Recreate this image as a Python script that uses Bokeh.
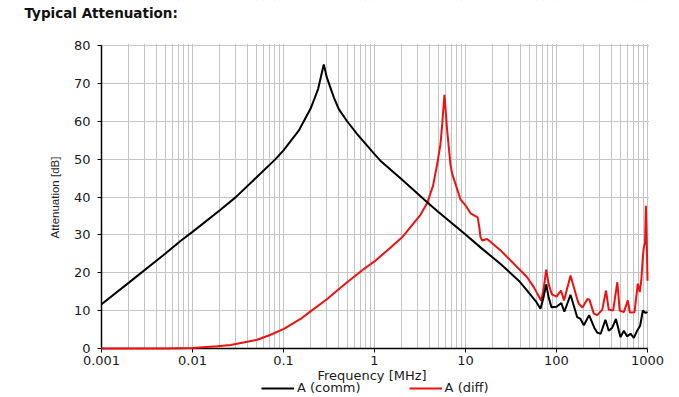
import math
from bokeh.plotting import figure
from bokeh.models import (FixedTicker, Legend, LegendItem, Range1d, Label,
                          CustomJSTickFormatter, BoxAnnotation)
from bokeh.embed import file_html
from bokeh.resources import INLINE

# ---- data ----
comm_freq = [0.001, 0.002, 0.005, 0.00738, 0.01, 0.02, 0.0297, 0.05, 0.0817, 0.1,
             0.147, 0.2, 0.24, 0.277, 0.3, 0.357, 0.405, 0.5, 0.645, 1.0, 1.16,
             2.0, 3.79, 5.0, 10.0, 14.6, 24.3, 38.5, 47.6, 60.0, 66.7, 72.0, 77.1,
             82.0, 88.0, 100.0, 113.0, 122.0, 142.6, 168.6, 183.6, 199.6, 228.0,
             260.0, 280.0, 306.0, 345.0, 375.0, 410.0, 450.0, 505.0, 549.0, 598.0,
             651.0, 708.0, 770.0, 830.0, 889.0, 951.0, 1000.0]
comm_att = [11.7, 17.4, 25.0, 28.4, 30.8, 36.5, 39.9, 45.1, 50.0, 52.3,
            57.5, 63.5, 68.5, 75.0, 71.5, 66.3, 63.2, 60.0, 56.6, 51.3, 49.6,
            44.6, 38.6, 36.1, 30.1, 26.7, 22.3, 17.9, 15.3, 12.3, 10.5, 13.5, 16.9,
            13.5, 10.9, 11.0, 12.0, 9.7, 14.2, 8.3, 7.8, 6.1, 8.8,
            5.5, 4.2, 3.9, 7.6, 4.7, 5.5, 7.8, 3.0, 4.7, 3.2,
            3.9, 2.8, 4.7, 6.0, 10.0, 9.4, 9.6]

diff_freq = [0.001, 0.005, 0.01, 0.0187, 0.0262, 0.04, 0.0514, 0.07, 0.101, 0.154,
             0.198, 0.3, 0.389, 0.5, 0.764, 1.0, 1.38, 2.0, 3.2, 3.79, 4.4, 4.89,
             5.31, 5.55, 5.87, 6.05, 6.29, 6.84, 7.14, 8.8, 10.0, 11.35, 13.6, 14.2,
             14.6, 15.3, 17.3, 24.3, 40.2, 47.6, 56.3, 67.9, 72.0, 77.1, 82.0, 89.0,
             100.0, 112.0, 121.0, 142.6, 168.6, 176.0, 193.0, 219.0, 230.0, 257.0,
             280.0, 306.0, 318.0, 350.0, 375.0, 419.0, 466.0, 495.0, 549.0, 608.0,
             640.0, 719.0, 783.0, 822.0, 854.0, 889.0, 912.0, 940.0, 960.0, 985.0,
             1000.0]
diff_att = [0.0, 0.0, 0.1, 0.6, 0.9, 1.8, 2.3, 3.5, 5.2, 7.8,
            9.8, 13.0, 15.3, 17.5, 21.0, 23.0, 25.9, 29.3, 35.3, 38.4, 43.0, 48.7,
            54.0, 59.3, 67.0, 63.0, 57.5, 48.5, 46.1, 39.4, 37.8, 35.7, 34.6, 32.0,
            29.4, 28.5, 28.9, 25.9, 20.6, 18.8, 16.2, 12.6, 15.5, 20.8, 17.0, 14.3,
            13.7, 15.3, 12.7, 19.3, 13.1, 11.8, 10.8, 13.1, 12.9, 9.2,
            8.8, 9.8, 10.2, 15.3, 10.3, 10.0, 17.5, 10.0, 9.6, 12.7,
            9.5, 9.6, 17.1, 14.9, 17.9, 24.1, 26.7, 28.0, 37.7, 26.0,
            17.9]

x_ticks = [0.001, 0.01, 0.1, 1, 10, 100, 1000]
x_tick_labels = ["0.001", "0.01", "0.1", "1", "10", "100", "1000"]
y_ticks = [0, 10, 20, 30, 40, 50, 60, 70, 80]

title_text = "Typical Attenuation:"
x_label = "Frequency [MHz]"
y_label = "Attenuation [dB]"
series_names = ["A (comm)", "A (diff)"]

# ---- layout (pixels): the whole canvas is the frame; the plot area is masked ----
W, H = 678, 396
X_MIN, X_MAX = 0.001, 1000
Y_MIN, Y_MAX = 0, 80
PX_L, PX_R, PX_T, PX_B = 101, 647, 45, 348
PX_DEC = (PX_R - PX_L) / math.log10(X_MAX / X_MIN)
PX_DB = (PX_B - PX_T) / (Y_MAX - Y_MIN)


def px_x(px):
    return X_MIN * 10 ** ((px - PX_L) / PX_DEC)


def px_y(py):
    return Y_MAX - (py - PX_T) / PX_DB


x0, x1 = px_x(0), px_x(W)
y0, y1 = px_y(H), px_y(0)

p = figure(frame_width=W, frame_height=H,
           min_border_left=0, min_border_right=0,
           min_border_top=0, min_border_bottom=0,
           x_axis_type="log",
           x_range=Range1d(x0, x1), y_range=Range1d(y0, y1),
           output_backend="svg", toolbar_location=None)
p.title = None
p.outline_line_color = None
p.background_fill_color = "white"
p.border_fill_color = "white"

minor = [m * 10.0 ** e for e in range(-3, 3) for m in range(2, 10)]
p.xaxis.ticker = FixedTicker(ticks=x_ticks, minor_ticks=minor)
p.yaxis.ticker = FixedTicker(ticks=y_ticks)
p.xaxis.formatter = CustomJSTickFormatter(
    args=dict(tick_vals=x_ticks, tick_texts=x_tick_labels),
    code="""
for (let i = 0; i < tick_vals.length; i++) {
  if (Math.abs(Math.log10(tick) - Math.log10(tick_vals[i])) < 1e-6) return tick_texts[i];
}
return '';
""")

for ax in (p.xaxis, p.yaxis):
    ax.axis_line_color = "black"
    ax.axis_line_width = 1.5
    ax.major_tick_line_color = "black"
    ax.major_tick_in = 0
    ax.major_tick_out = 4
    ax.minor_tick_line_color = None
    ax.major_label_text_font = "DejaVu Sans"
    ax.major_label_text_font_size = "13px"
    ax.major_label_text_color = "#1a1a1a"

p.xaxis.fixed_location = Y_MIN
p.xaxis.bounds = (X_MIN, X_MAX)
p.xaxis.major_label_standoff = 3
p.yaxis.fixed_location = X_MIN
p.yaxis.bounds = (Y_MIN, Y_MAX)
p.yaxis.major_label_standoff = 7

p.xgrid.grid_line_color = "#c4c4c4"
p.xgrid.grid_line_width = 1
p.xgrid.minor_grid_line_color = "#c4c4c4"
p.xgrid.minor_grid_line_width = 1
p.ygrid.grid_line_color = "#c4c4c4"
p.ygrid.grid_line_width = 1

# white masks hiding the grid outside the plot area
mask_kw = dict(fill_color="white", fill_alpha=1.0, line_alpha=0, level="glyph")
p.add_layout(BoxAnnotation(left=x0, right=x1, bottom=y0, top=Y_MIN, **mask_kw))
p.add_layout(BoxAnnotation(left=x0, right=x1, bottom=px_y(PX_T - 1.5), top=y1, **mask_kw))
p.add_layout(BoxAnnotation(left=x0, right=X_MIN, bottom=y0, top=y1, **mask_kw))
p.add_layout(BoxAnnotation(left=px_x(PX_R + 1.5), right=x1, bottom=y0, top=y1, **mask_kw))

r_red = p.line(diff_freq, diff_att, line_color="#ee1111", line_width=2, level="overlay")
r_black = p.line(comm_freq, comm_att, line_color="black", line_width=2, level="overlay")

p.add_layout(Label(x=px_x(24), y=px_y(12), text=title_text,
                   text_align="left", text_baseline="middle",
                   text_font="DejaVu Sans", text_font_size="13.5px",
                   text_font_style="bold", text_color="#111111"))
p.add_layout(Label(x=px_x(371.5), y=px_y(375), text=x_label,
                   text_align="center", text_baseline="middle",
                   text_font="DejaVu Sans", text_font_size="13px",
                   text_color="#1a1a1a"))
p.add_layout(Label(x=px_x(54), y=px_y(197), text=y_label, angle=math.pi / 2,
                   text_align="center", text_baseline="middle",
                   text_font="Liberation Sans", text_font_size="11.5px",
                   text_color="#1a1a1a"))

legend = Legend(items=[LegendItem(label=series_names[0], renderers=[r_black]),
                       LegendItem(label=series_names[1], renderers=[r_red])],
                orientation="horizontal", location=(261, 1),
                glyph_width=33, glyph_height=14, label_standoff=3, spacing=48,
                padding=0, margin=0, border_line_color=None,
                background_fill_alpha=0, label_text_font="DejaVu Sans",
                label_text_font_size="13px", label_height=14,
                label_text_color="#1a1a1a")
p.add_layout(legend)

open("out.html", "w").write(file_html(p, INLINE))
